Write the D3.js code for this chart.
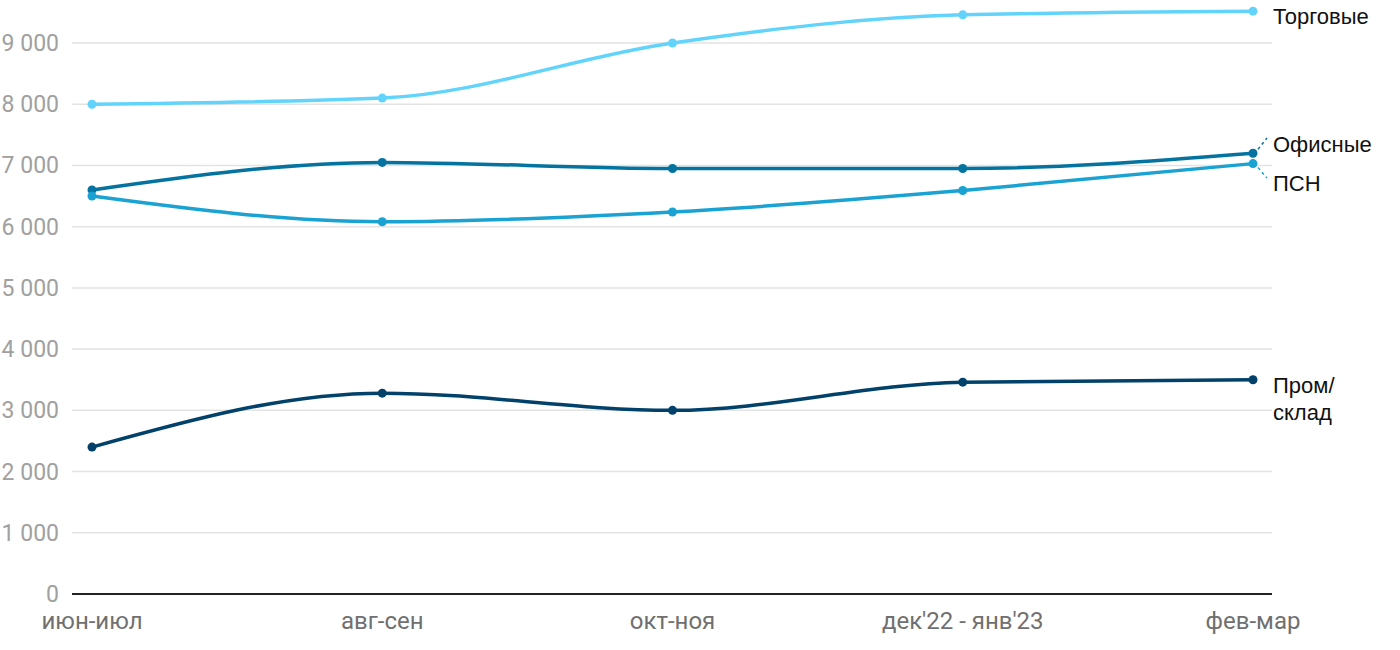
<!DOCTYPE html>
<html><head><meta charset="utf-8">
<script src="https://cdn.jsdelivr.net/npm/d3@7"></script>
<style>body{margin:0;background:#fff;font-family:Roboto,"Noto Sans",sans-serif;}</style>
</head><body><svg id="c" width="1400" height="650"></svg>
<script>
const categories = ["июн-июл","авг-сен","окт-ноя","дек'22 - янв'23","фев-мар"];
const torgovye = [8000, 8100, 9000, 9460, 9520];
const ofisnye = [6600, 7050, 6950, 6950, 7200];
const psn = [6500, 6080, 6240, 6590, 7030];
const prom = [2400, 3280, 3000, 3460, 3500];
const yTicks = [0,1000,2000,3000,4000,5000,6000,7000,8000,9000];
const seriesNames = ["Торговые","Офисные","ПСН","Пром/склад"];
const colors = ["#62d4fb","#0573a0","#1aa3d2","#01416a"];

const svg = d3.select("#c");
const x = d3.scalePoint().domain(categories).range([92,1253]);
const y = d3.scaleLinear().domain([0,9000]).range([594,43]);
const fmt = v => d3.format(",")(v).replace(/,/g," ");

const grid = svg.append("g");
grid.selectAll("line").data(yTicks.filter(d=>d>0)).join("line")
  .attr("x1",72).attr("x2",1272).attr("y1",d=>y(d)).attr("y2",d=>y(d))
  .attr("stroke","#e3e3e3").attr("stroke-width",1.5);
svg.append("g").selectAll("text").data(yTicks).join("text")
  .attr("x",59).attr("y",d=>y(d)).attr("dy","0.35em").attr("text-anchor","end")
  .attr("font-size",23).attr("fill","#a0a0a0").text(fmt);
svg.append("line").attr("x1",72).attr("x2",1272).attr("y1",y(0)).attr("y2",y(0))
  .attr("stroke","#222").attr("stroke-width",2);
svg.append("g").selectAll("text").data(categories).join("text")
  .attr("x",d=>x(d)).attr("y",629).attr("text-anchor","middle")
  .attr("font-size",24).attr("fill","#707070").text(d=>d);

const data = [torgovye, ofisnye, psn, prom];
const line = d3.line().x((d,i)=>x(categories[i])).y(d=>y(d)).curve(d3.curveMonotoneX);
data.forEach((vals,k)=>{
  svg.append("path").attr("d",line(vals)).attr("fill","none")
    .attr("stroke",colors[k]).attr("stroke-width",3.5).attr("stroke-linecap","round");
  svg.append("g").selectAll("circle").data(vals).join("circle")
    .attr("cx",(d,i)=>x(categories[i])).attr("cy",d=>y(d)).attr("r",4.5).attr("fill",colors[k]);
});

// labels
const lx = 1273;
const last = categories[categories.length-1];
const lab = svg.append("g").attr("font-size",22).attr("fill","#111")
  .attr("font-family","'Liberation Sans',Arial,sans-serif");
lab.append("text").attr("x",lx).attr("y",y(torgovye[4])+5).attr("dy","0.35em").text(seriesNames[0]);
lab.append("text").attr("x",lx).attr("y",144).attr("dy","0.35em").text(seriesNames[1]);
lab.append("text").attr("x",lx).attr("y",183).attr("dy","0.35em").text(seriesNames[2]);
const t4 = lab.append("text").attr("x",lx).attr("y",385).attr("dy","0.35em");
t4.append("tspan").attr("x",lx).text("Пром/");
t4.append("tspan").attr("x",lx).attr("dy",27).text("склад");
svg.append("line").attr("x1",x(last)+5).attr("y1",y(ofisnye[4])-4).attr("x2",lx-6).attr("y2",138)
  .attr("stroke",colors[1]).attr("stroke-width",1.5).attr("stroke-dasharray","3,3");
svg.append("line").attr("x1",x(last)+5).attr("y1",y(psn[4])+4).attr("x2",lx-6).attr("y2",178)
  .attr("stroke",colors[2]).attr("stroke-width",1.5).attr("stroke-dasharray","3,3");
</script></body></html>
